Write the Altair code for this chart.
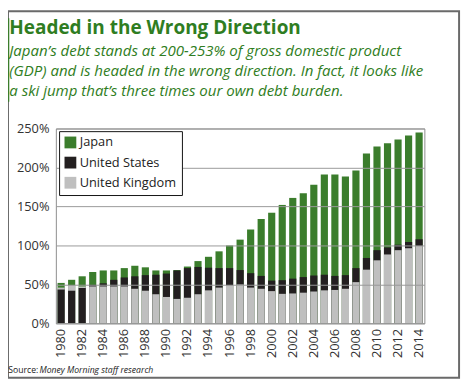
import altair as alt
import pandas as pd

years = list(range(1980, 2015))
japan = [52, 56, 60.5, 66, 68, 68, 71, 74, 72, 68, 68, 68.5, 73, 80, 85.5, 92.5, 100, 107.5,
         120.5, 134, 142, 152, 161, 167, 178, 191, 191, 188.5, 196, 218, 227, 231, 236, 241, 245]
us = [43.5, 42, 45.5, 49.5, 51.5, 56, 59, 60.5, 62, 62.5, 64, 68, 71, 72.5, 71.5, 71, 71, 68.5,
      64.5, 61, 55, 55.5, 57.5, 59.5, 61.5, 62.5, 61, 62, 71, 84, 94, 97.5, 101, 104.5, 108]
uk = [46, 49, 47.5, 47.5, 47.5, 47.5, 47.5, 44.5, 42, 37.5, 34, 31.5, 33, 37.5, 42.5, 46, 49, 50,
      46, 44.5, 41.5, 38, 38.5, 39.5, 41, 42.5, 43, 44.5, 53, 69, 81, 88.5, 94, 96.5, 99.5]
countries = ["Japan", "United States", "United Kingdom"]
colors = ["#3b7d2c", "#231f20", "#bfbfbf"]
x_labels = list(range(1980, 2015, 2))
y_ticks = [0, 50, 100, 150, 200, 250]

title_text = "Headed in the Wrong Direction"
subtitle_lines = [
    "Japan\u2019s debt stands at 200-253% of gross domestic product",
    "(GDP) and is headed in the wrong direction. In fact, it looks like",
    "a ski jump that\u2019s three times our own debt burden.",
]
source_label = "Source:"
source_text = "Money Morning staff research"

rows = []
for c, vals in zip(countries, [japan, us, uk]):
    for yr, v in zip(years, vals):
        rows.append({"year": yr, "country": c, "value": v})
df = pd.DataFrame(rows)

W, H = 375, 198.4
PL, PT = 48.7, 119.3
FONT = "Open Sans"
GREEN_TXT = "#2f7d22"

bars = alt.Chart(df).mark_bar().encode(
    x=alt.X("year:O",
            scale=alt.Scale(paddingInner=0.32, paddingOuter=0.16),
            axis=alt.Axis(values=x_labels, labelAngle=270, title=None, ticks=False,
                          domain=False, grid=False, labelFontSize=13, labelFont=FONT,
                          labelColor="#333333", labelPadding=5)),
    y=alt.Y("value:Q", stack=None,
            scale=alt.Scale(domain=[0, 250], nice=False),
            axis=alt.Axis(values=y_ticks, labelExpr="datum.value + '%'", title=None,
                          ticks=False, domain=False, gridColor="#999999", gridWidth=1,
                          labelFontSize=13, labelFont=FONT, labelColor="#333333",
                          labelPadding=7, zindex=1)),
    color=alt.Color("country:N",
                    scale=alt.Scale(domain=countries, range=colors),
                    legend=alt.Legend(orient="none", legendX=3.3, legendY=2.7, title=None,
                                      strokeColor="#111111", fillColor="white", padding=5,
                                      symbolType="square", symbolSize=144,
                                      symbolStrokeWidth=0, symbolOpacity=1,
                                      labelFontSize=13, labelFont=FONT,
                                      labelColor="#222222", rowPadding=6.5,
                                      labelOffset=3, zindex=2)),
    order=alt.Order("value:Q", sort="descending"),
)

def txt(text, px, py, size, **kw):
    return alt.Chart(pd.DataFrame({"t": [text]})).mark_text(
        align="left", baseline="alphabetic", fontSize=size, font=FONT, **kw
    ).encode(text="t:N", x=alt.value(px - 56.7), y=alt.value(py - 127.3))

title = txt(title_text, 9.3, 30.7, 19.3, fontWeight="bold", color=GREEN_TXT)
subs = [txt(s, 9.3, b, 15.3, fontStyle="italic", color=GREEN_TXT)
        for s, b in zip(subtitle_lines, [53.4, 73.8, 94.2])]
src1 = txt(source_label, 8.3, 376.5, 8.8, color="#222222")
src2 = txt(source_text, 40, 376.5, 8.8, fontStyle="italic", color="#222222")

frame = alt.Chart(pd.DataFrame({"a": [0]})).mark_rect(
    filled=False, color="#6a6a6a", strokeWidth=2
).encode(x=alt.value(8 - 56.7), x2=alt.value(467 - 56.7),
         y=alt.value(8 - 127.3), y2=alt.value(381 - 127.3))

accent = alt.Chart(pd.DataFrame({"a": [0]})).mark_rect(color="#3b7d2c").encode(
    x=alt.value(8 - 56.7), x2=alt.value(9.3 - 56.7),
    y=alt.value(15 - 127.3), y2=alt.value(100 - 127.3))

chart = alt.layer(bars, frame, accent, title, *subs, src1, src2).properties(
    width=W, height=H,
    autosize=alt.AutoSizeParams(type="none"),
    padding={"left": PL, "top": PT, "right": 471 - 8 - PL - W, "bottom": 386 - 8 - PT - H},
).configure_view(stroke="#8c8c8c", strokeWidth=1)

chart.save("out.html", embed_options={"renderer": "svg", "actions": False})
